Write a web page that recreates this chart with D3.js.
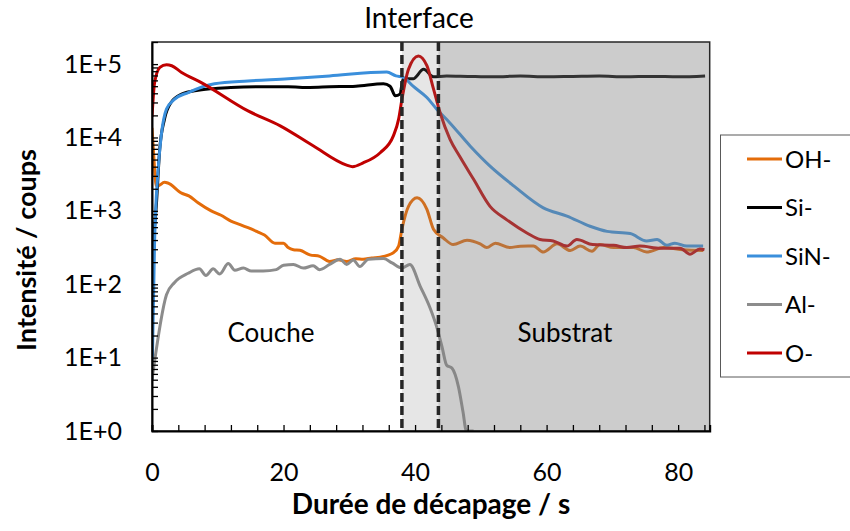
<!DOCTYPE html>
<html>
<head>
<meta charset="utf-8">
<script src="https://cdn.jsdelivr.net/npm/d3@7"></script>
<style>
  body { margin: 0; background: #fff; }
  text { font-family: Lato, "Open Sans", sans-serif; fill: #000; }
</style>
</head>
<body>
<div id="root"></div>
<script>
const width = 850;
const height = 531;

// [time (s), intensity (counts)]
const ohData = [[0, 13500], [0.3, 5000], [0.65, 2190], [0.9, 2190], [1.9, 2450], [2.4, 2400], [4.5, 1740], [5.6, 1600],
  [7, 1290], [9, 1000], [10.5, 870], [12, 724], [13.4, 650], [14.6, 589], [16, 520], [17.1, 468], [18.7, 363], [20, 363],
  [20.7, 316], [21.5, 295], [22.5, 290], [24, 251], [25.5, 240], [27, 204], [28.3, 215], [29.6, 204], [31, 222], [32.1, 219],
  [33.4, 228], [34.7, 234], [36.7, 269], [37.5, 331], [38, 562], [39, 1150], [40.3, 1510], [41.8, 1050], [42.8, 562],
  [44.3, 427], [45.8, 347], [47.9, 398], [49.9, 355], [50.9, 316], [52.2, 363], [54.4, 316], [56, 330], [58, 331],
  [59.5, 275], [61.6, 355], [63.6, 288], [65.1, 331], [66.9, 282], [68.1, 347], [70.2, 316], [73.2, 316], [75.2, 275],
  [77.8, 316], [80.8, 295], [83.8, 288]];

const siData = [[0, 280], [0.65, 1150], [1.17, 6900], [1.9, 17800], [2.9, 30000], [4.5, 39000], [7, 44000], [12, 48000],
  [16, 49000], [20.7, 49000], [24, 48000], [27, 49000], [31, 50000], [35.2, 54000], [36.2, 50000], [37, 37000],
  [37.7, 39000], [38.2, 63000], [39.7, 63000], [41.3, 85000], [42.8, 67000], [44.8, 69000], [48, 68000], [52, 67000],
  [56, 69000], [60, 67000], [64, 68000], [68, 69000], [72, 67000], [76, 68000], [80, 67000], [84.1, 69000]];

const sinData = [[0, 5], [0.4, 407], [0.9, 3300], [1.4, 10500], [2.2, 24300], [3.4, 33000], [5.5, 41000], [9.5, 54000],
  [14.6, 59000], [20.7, 63000], [27, 69000], [35.7, 78000], [37.1, 69000], [38.2, 66000], [39.7, 50000], [41.8, 35000],
  [43.3, 24300], [45.3, 15800], [48.4, 7600], [51.4, 4070], [55, 2190], [59.5, 1100], [63.1, 850], [66.6, 617],
  [69.2, 525], [72.7, 490], [75.2, 389], [76.8, 407], [78.3, 339], [79.5, 363], [81.3, 331], [83.8, 331]];

const alData = [[0, 5], [2.2, 72], [3.4, 105], [5.5, 141], [7.2, 162], [8.2, 132], [9.3, 162], [10.3, 138], [11.6, 191],
  [12.6, 155], [13.9, 166], [15.1, 151], [16.9, 151], [18.9, 158], [20, 182], [21.5, 186], [23, 166], [24.5, 178],
  [25.5, 158], [27, 186], [28.6, 219], [29.6, 186], [30.6, 214], [31.6, 174], [32.9, 219], [35.2, 224], [36.5, 195],
  [38, 166], [39.2, 186], [40.8, 93], [42.3, 47], [43.3, 26], [44.1, 14], [44.8, 7.9], [45.6, 7.2], [46.6, 4.0],
  [47.3, 1.8], [47.8, 1.0], [48.9, 1.0]];

const oData = [[0, 19000], [0.4, 56000], [1.2, 90000], [2.2, 98000], [3, 95000], [4.5, 77000], [7.5, 56000],
  [14.6, 23000], [19.5, 14400], [24.5, 7700], [29.6, 4200], [30.5, 4000], [32.1, 4500], [34.7, 6200], [36.7, 10500],
  [37.5, 17800], [38, 33000], [39, 85000], [40.5, 129000], [41.8, 95000], [42.8, 46000], [43.8, 21900], [45.3, 9500],
  [46.8, 5500], [48.9, 2690], [51.4, 1150], [53.9, 760], [57, 500], [59, 407], [61, 389], [63.1, 331], [64.6, 407],
  [67, 347], [70.2, 339], [72.2, 316], [74.2, 331], [77.3, 309], [80.3, 309], [81.8, 257], [83.3, 302], [84, 295]];

const seriesNames = ['OH-', 'Si-', 'SiN-', 'Al-', 'O-'];
const seriesColors = ['#e46c0a', '#000000', '#3a8fdc', '#8c8c8c', '#c00000'];
const seriesData = [ohData, siData, sinData, alData, oData];

const interfaceStart = 38.0;
const interfaceEnd = 43.55;

const xTicks = d3.range(0, 85, 4);
const xLabels = [0, 20, 40, 60, 80];
const yLabels = [1, 10, 100, 1000, 10000, 100000];

const margin = {left: 152, right: 709.7, top: 42, bottom: 431};

const x = d3.scaleLinear().domain([0, 84.8]).range([margin.left, margin.right]);
const y = d3.scaleLog().domain([1, 2e5]).range([margin.bottom, margin.top]);

const svg = d3.select('#root').append('svg')
  .attr('width', width)
  .attr('height', height);

svg.append('clipPath').attr('id', 'plotclip')
  .append('rect')
  .attr('x', margin.left).attr('y', margin.top)
  .attr('width', margin.right - margin.left).attr('height', margin.bottom - margin.top);

const line = d3.line()
  .x(d => x(d[0]))
  .y(d => y(d[1]))
  .curve(d3.curveMonotoneX);

const lines = svg.append('g').attr('clip-path', 'url(#plotclip)');
seriesData.forEach((data, i) => {
  lines.append('path')
    .datum(data)
    .attr('d', line)
    .attr('fill', 'none')
    .attr('stroke', seriesColors[i])
    .attr('stroke-width', 3)
    .attr('stroke-linejoin', 'round');
});

// shaded zones drawn over the curves
svg.append('rect')
  .attr('x', x(interfaceStart)).attr('y', margin.top)
  .attr('width', x(interfaceEnd) - x(interfaceStart)).attr('height', margin.bottom - margin.top)
  .attr('fill', '#808080').attr('fill-opacity', 0.2);
svg.append('rect')
  .attr('x', x(interfaceEnd)).attr('y', margin.top)
  .attr('width', margin.right - x(interfaceEnd)).attr('height', margin.bottom - margin.top)
  .attr('fill', '#808080').attr('fill-opacity', 0.4);

[interfaceStart, interfaceEnd].forEach(t => {
  svg.append('line')
    .attr('x1', x(t)).attr('x2', x(t))
    .attr('y1', margin.top).attr('y2', margin.bottom)
    .attr('stroke', '#262626')
    .attr('stroke-width', 3.5)
    .attr('stroke-dasharray', '9,4');
});

// frame
svg.append('rect')
  .attr('x', margin.left).attr('y', margin.top)
  .attr('width', margin.right - margin.left).attr('height', margin.bottom - margin.top)
  .attr('fill', 'none').attr('stroke', '#262626').attr('stroke-width', 1.5);

// y axis with minor ticks pointing inward
const yMinor = [];
for (let k = 0; k <= 5; k++) {
  for (let m = 1; m <= 9; m++) {
    const v = m * Math.pow(10, k);
    if (v <= 2e5) yMinor.push(v);
  }
}
svg.append('g')
  .attr('transform', `translate(${margin.left},0)`)
  .call(d3.axisRight(y).tickValues(yMinor).tickSize(6).tickFormat(''))
  .call(g => g.select('.domain').remove())
  .call(g => g.selectAll('line').attr('stroke', '#000').attr('stroke-width', 1.3));

svg.append('g')
  .attr('transform', `translate(${margin.left},0)`)
  .call(d3.axisLeft(y).tickValues(yLabels).tickSize(0).tickPadding(30)
    .tickFormat(d => '1E+' + Math.round(Math.log10(d))))
  .call(g => g.select('.domain').attr('stroke', '#000').attr('stroke-width', 2))
  .call(g => g.selectAll('text').attr('font-size', 25).attr('font-family', 'Lato').attr('fill', '#000'));

svg.append('g')
  .attr('transform', `translate(0,${margin.bottom})`)
  .call(d3.axisTop(x).tickValues(xTicks).tickSize(6).tickFormat(''))
  .call(g => g.select('.domain').attr('stroke', '#000').attr('stroke-width', 2))
  .call(g => g.selectAll('line').attr('stroke', '#000').attr('stroke-width', 1.3));

svg.append('g')
  .attr('transform', `translate(0,${margin.bottom})`)
  .call(d3.axisBottom(x).tickValues(xLabels).tickSize(0).tickPadding(32))
  .call(g => g.select('.domain').remove())
  .call(g => g.selectAll('text').attr('font-size', 25).attr('font-family', 'Lato').attr('fill', '#000'));

// titles and zone labels
svg.append('text')
  .attr('x', 431).attr('y', 514)
  .attr('text-anchor', 'middle')
  .attr('font-size', 28).attr('font-weight', 'bold')
  .text('Durée de décapage / s');

svg.append('text')
  .attr('transform', 'translate(36,250) rotate(-90)')
  .attr('text-anchor', 'middle')
  .attr('font-size', 27).attr('font-weight', 'bold')
  .text('Intensité / coups');

svg.append('text')
  .attr('x', 419).attr('y', 28)
  .attr('text-anchor', 'middle')
  .attr('font-size', 28)
  .text('Interface');

svg.append('text')
  .attr('x', 271).attr('y', 342)
  .attr('text-anchor', 'middle')
  .attr('font-size', 26)
  .text('Couche');

svg.append('text')
  .attr('x', 565).attr('y', 342)
  .attr('text-anchor', 'middle')
  .attr('font-size', 26)
  .text('Substrat');

// legend
const legend = svg.append('g');
legend.append('rect')
  .attr('x', 720.5).attr('y', 135)
  .attr('width', 140).attr('height', 242)
  .attr('fill', '#fff').attr('stroke', '#595959').attr('stroke-width', 1);

const entry = legend.selectAll('g.entry')
  .data(seriesNames)
  .join('g')
  .attr('class', 'entry')
  .attr('transform', (d, i) => `translate(0,${159 + i * 48.5})`);

entry.append('line')
  .attr('x1', 747).attr('x2', 782)
  .attr('stroke', (d, i) => seriesColors[i])
  .attr('stroke-width', 3);

entry.append('text')
  .attr('x', 785).attr('y', 0)
  .attr('dy', '0.36em')
  .attr('font-size', 24)
  .text(d => d);
</script>
</body>
</html>
